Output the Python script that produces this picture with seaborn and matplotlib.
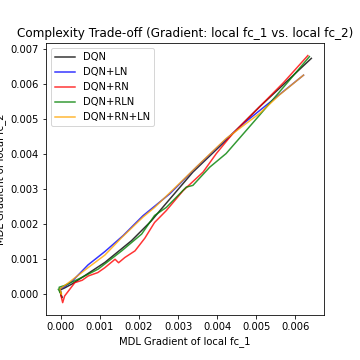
import numpy as np
import pandas as pd
import seaborn as sns
import matplotlib
matplotlib.use("Agg")
import matplotlib.pyplot as plt

# values
dqn_x = [0.00000, 0.00003, -0.00002, 0.00010, 0.00030, 0.00060, 0.00113, 0.00181,
         0.00232, 0.00253, 0.00338, 0.00423, 0.00508, 0.00580, 0.00641]
dqn_y = [0.00005, -0.00010, 0.00012, 0.00018, 0.00030, 0.00052, 0.00091, 0.00153,
         0.00210, 0.00238, 0.00349, 0.00440, 0.00535, 0.00610, 0.00674]

ln_x = [0.00000, -0.00002, 0.00010, 0.00030, 0.00070, 0.00113, 0.00160, 0.00210,
        0.00279, 0.00347, 0.00420, 0.00470, 0.00520, 0.00570, 0.00621]
ln_y = [0.00008, 0.00015, 0.00022, 0.00038, 0.00084, 0.00122, 0.00168, 0.00224,
        0.00287, 0.00363, 0.00440, 0.00490, 0.00535, 0.00580, 0.00626]

rn_x = [0.00000, 0.00003, 0.00005, 0.00010, 0.00036, 0.00055, 0.00070, 0.00095,
        0.00113, 0.00139, 0.00148, 0.00164, 0.00190, 0.00215, 0.00240, 0.00270,
        0.00313, 0.00364, 0.00398, 0.00440, 0.00508, 0.00570, 0.00632]
rn_y = [0.00000, -0.00015, -0.00024, -0.00005, 0.00033, 0.00040, 0.00052, 0.00062,
        0.00076, 0.00100, 0.00090, 0.00105, 0.00124, 0.00160, 0.00205, 0.00239,
        0.00296, 0.00349, 0.00402, 0.00459, 0.00535, 0.00605, 0.00682]

rln_x = [-0.00006, 0.00000, -0.00004, 0.00010, 0.00054, 0.00096, 0.00156, 0.00207,
         0.00240, 0.00270, 0.00321, 0.00338, 0.00381, 0.00423, 0.00508, 0.00580,
         0.00636]
rln_y = [0.00014, 0.00002, 0.00020, 0.00025, 0.00048, 0.00072, 0.00124, 0.00172,
         0.00225, 0.00248, 0.00306, 0.00311, 0.00363, 0.00402, 0.00511, 0.00605,
         0.00679]

rnln_x = [0.00000, 0.00002, -0.00002, 0.00020, 0.00070, 0.00113, 0.00156, 0.00210,
          0.00240, 0.00305, 0.00364, 0.00423, 0.00508, 0.00560, 0.00621]
rnln_y = [0.00005, 0.00000, 0.00015, 0.00033, 0.00076, 0.00112, 0.00162, 0.00220,
          0.00248, 0.00318, 0.00382, 0.00445, 0.00516, 0.00570, 0.00626]

names = ["DQN", "DQN+LN", "DQN+RN", "DQN+RLN", "DQN+RN+LN"]
colors = ["black", "blue", "red", "green", "orange"]
series = [(dqn_x, dqn_y), (ln_x, ln_y), (rn_x, rn_y), (rln_x, rln_y), (rnln_x, rnln_y)]

frames = []
for name, (xs, ys) in zip(names, series):
    frames.append(pd.DataFrame({"x": xs, "y": ys, "model": name}))
df = pd.concat(frames, ignore_index=True)

fig, ax = plt.subplots(figsize=(5, 5), dpi=72)
fig.subplots_adjust(left=0.127, right=0.90, bottom=0.125, top=0.88)

sns.lineplot(data=df, x="x", y="y", hue="model", hue_order=names,
             palette=dict(zip(names, colors)), sort=False, estimator=None,
             units="model", alpha=0.8, linewidth=1.5, ax=ax)

ax.set_title("Complexity Trade-off (Gradient: local fc_1 vs. local fc_2)")
ax.set_xlabel("MDL Gradient of local fc_1")
ax.set_ylabel("MDL Gradient of local fc_2")
ax.legend(loc="upper left")

fig.savefig("out.png", dpi=72)
